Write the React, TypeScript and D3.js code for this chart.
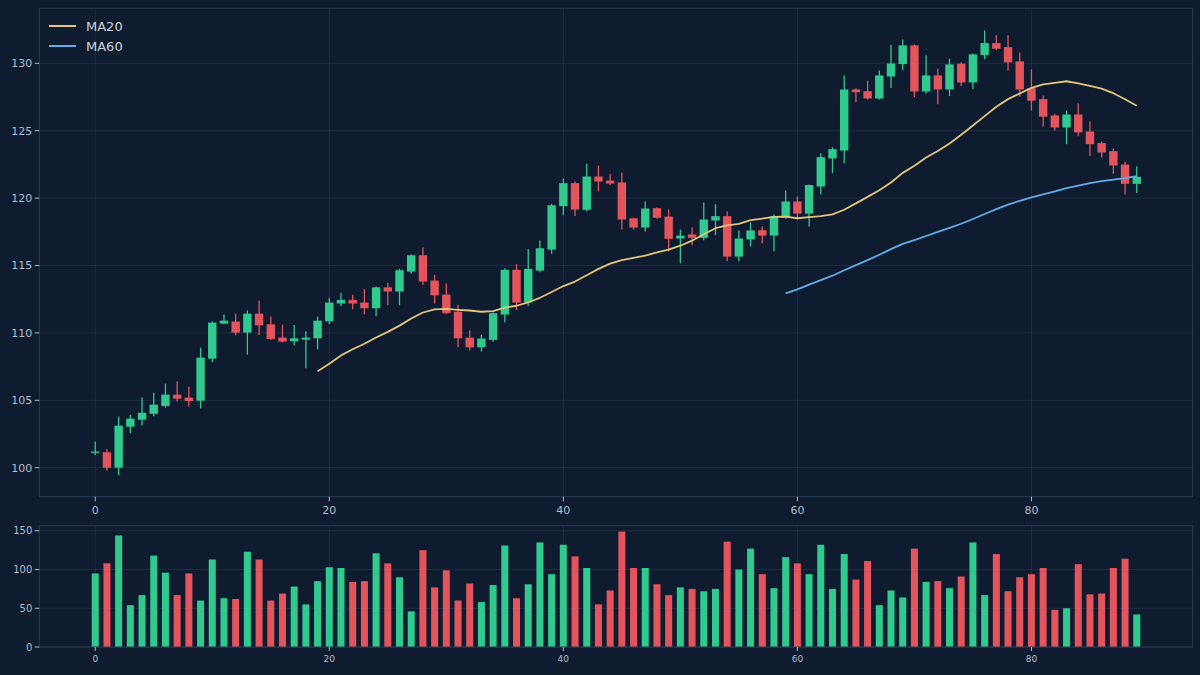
import { useMemo } from "react";
import * as d3 from "d3";

const opens = [
  101.1, 101.15, 100.0, 103.04, 103.56, 104.0, 104.58, 105.42, 105.2, 104.97,
  108.09, 110.69, 110.84, 110.02, 111.43, 110.64, 109.65, 109.38, 109.5, 109.6,
  110.86, 112.18, 112.45, 112.25, 111.83, 113.38, 113.07, 114.55, 115.76, 113.88,
  112.84, 111.57, 109.65, 108.93, 109.48, 111.36, 114.68, 112.25, 114.62, 116.18,
  119.4, 121.11, 119.13, 121.6, 121.3, 121.16, 118.5, 117.82, 119.25, 118.63,
  117.0, 117.3, 117.05, 118.34, 118.66, 115.66, 116.93, 117.62, 117.22, 118.56,
  119.75, 118.85, 120.86, 122.94, 123.53, 128.06, 127.93, 127.39, 129.02, 129.94,
  131.33, 127.91, 129.1, 128.06, 129.97, 128.58, 130.61, 131.5, 131.2, 130.14,
  128.16, 127.34, 126.13, 125.24, 126.2, 124.94, 124.08, 123.48, 122.49, 121.06,
];
const highs = [
  101.93, 101.39, 103.79, 103.93, 105.2, 105.57, 106.24, 106.41, 106.01, 108.9,
  110.84, 111.36, 111.43, 111.66, 112.4, 111.21, 110.62, 110.59, 110.12, 111.21,
  112.6, 112.97, 112.84, 113.27, 113.44, 113.73, 114.75, 115.81, 116.35, 114.31,
  113.66, 112.08, 110.17, 109.87, 111.51, 114.8, 115.1, 116.23, 116.85, 119.58,
  121.46, 121.23, 122.55, 122.42, 121.8, 121.9, 118.56, 119.75, 119.3, 119.15,
  117.67, 117.82, 119.67, 119.55, 119.0, 117.6, 118.19, 117.89, 118.8, 120.56,
  120.12, 121.01, 123.33, 123.78, 129.1, 128.14, 128.71, 129.47, 131.38, 131.77,
  131.4, 130.59, 129.6, 130.34, 130.07, 130.73, 132.44, 132.09, 132.09, 130.81,
  129.55, 127.62, 126.26, 126.5, 127.02, 125.69, 124.2, 123.68, 122.7, 122.36,
];
const lows = [
  100.94, 99.78, 99.46, 102.55, 103.14, 103.81, 104.45, 104.92, 104.53, 104.4,
  107.82, 110.64, 109.82, 108.39, 109.82, 109.48, 109.3, 109.06, 107.37, 108.78,
  110.67, 111.98, 111.75, 111.38, 111.23, 112.05, 112.05, 114.38, 113.56, 112.18,
  111.41, 108.93, 108.69, 108.61, 109.35, 110.79, 111.71, 112.0, 114.5, 115.86,
  118.73, 118.68, 119.0, 120.51, 120.96, 117.67, 117.67, 117.52, 118.46, 116.06,
  115.16, 116.5, 116.87, 117.25, 115.31, 115.31, 116.42, 116.65, 116.06, 118.46,
  118.41, 117.87, 120.27, 121.85, 122.59, 127.12, 127.32, 127.32, 128.17, 129.5,
  127.49, 127.74, 126.97, 127.57, 128.31, 128.08, 130.31, 131.01, 129.47, 127.52,
  126.49, 125.32, 125.02, 124.0, 124.58, 123.13, 123.0, 121.81, 120.27, 120.37,
];
const closes = [
  101.2, 100.0, 103.12, 103.64, 104.08, 104.68, 105.42, 105.12, 104.95, 108.17,
  110.76, 110.91, 110.02, 111.43, 110.56, 109.55, 109.35, 109.6, 109.65, 110.91,
  112.25, 112.45, 112.18, 111.83, 113.38, 113.07, 114.65, 115.76, 113.81, 112.79,
  111.48, 109.6, 108.93, 109.58, 111.46, 114.68, 112.25, 114.75, 116.28, 119.47,
  121.11, 119.15, 121.6, 121.23, 121.08, 118.41, 117.81, 119.23, 118.54, 116.98,
  117.22, 117.05, 118.41, 118.66, 115.66, 117.0, 117.6, 117.22, 118.66, 119.75,
  118.85, 120.97, 123.04, 123.63, 128.06, 127.86, 127.39, 129.1, 129.99, 131.33,
  127.91, 129.1, 128.06, 129.92, 128.58, 130.66, 131.5, 131.08, 130.07, 128.06,
  127.23, 126.04, 125.24, 126.2, 124.88, 124.0, 123.38, 122.42, 121.06, 121.58,
];
const volumes = [
  95, 108, 144, 54, 67, 118, 96, 67, 95, 60,
  113, 63, 62, 123, 113, 60, 69, 78, 55, 85,
  103, 102, 84, 85, 121, 108, 90, 46, 125, 77,
  99, 60, 82, 58, 80, 131, 63, 81, 135, 94,
  132, 117, 102, 55, 73, 149, 102, 102, 81, 67,
  77, 75, 72, 75, 136, 100, 127, 94, 76, 116,
  108, 94, 132, 75, 120, 87, 111, 54, 73, 64,
  127, 84, 85, 76, 91, 135, 67, 120, 72, 90,
  94, 102, 48, 50, 107, 68, 69, 102, 114, 42,
];
const priceTicks = [100, 105, 110, 115, 120, 125, 130];
const volTicks = [0, 50, 100, 150];
const xTicks = [0, 20, 40, 60, 80];
const maWindows = [
  { name: "MA20", n: 20, color: "#e3c578" },
  { name: "MA60", n: 60, color: "#5eaee8" },
];

const W = 1200;
const H = 675;
const BG = "#0f1c2f";
const UP = "#30c98e";
const DOWN = "#e4545c";
const SPINE = "#2a3a50";
const TICK = "#b3bcc8";
const FONT = "DejaVu Sans, Verdana, sans-serif";

const movingAvg = (n: number) =>
  closes.map((_, i) => (i < n - 1 ? null : d3.mean(closes.slice(i - n + 1, i + 1))!));

export default function App() {
  const x = d3.scaleLinear().domain([-4.78, 93.78]).range([39.3, 1192.7]);
  const y = d3.scaleLinear().domain([97.85, 134.08]).range([496.7, 8.3]);
  const yv = d3.scaleLinear().domain([0, 156.6]).range([647, 525.7]);

  const bodyW = x(0.72) - x(0);
  const volW = x(0.6) - x(0);

  const maPaths = useMemo(() => {
    return maWindows.map((m) => {
      const vals = movingAvg(m.n);
      const line = d3
        .line<number | null>()
        .defined((d) => d !== null)
        .x((_, i) => x(i))
        .y((d) => y(d as number));
      return { ...m, d: line(vals)! };
    });
  }, []);

  const [x0, x1] = x.range();
  const [mb, mt] = y.range();
  const [vb, vt] = yv.range();

  return (
    <svg
      width={W}
      height={H}
      style={{ position: "absolute", left: 0, top: 0, background: BG }}
      fontFamily={FONT}
    >
      <rect width={W} height={H} fill={BG} />

      {/* price panel */}
      <g>
        {closes.map((c, i) => {
          const o = opens[i];
          const col = c >= o ? UP : DOWN;
          const top = y(Math.max(o, c));
          const h = Math.max(1.2, Math.abs(y(o) - y(c)));
          return (
            <g key={i}>
              <line x1={x(i)} x2={x(i)} y1={y(highs[i])} y2={y(lows[i])} stroke={col} strokeWidth={1.3} />
              <rect x={x(i) - bodyW / 2} y={top} width={bodyW} height={h} fill={col} />
            </g>
          );
        })}
        {maPaths.map((m) => (
          <path key={m.name} d={m.d} fill="none" stroke={m.color} strokeWidth={1.8} strokeLinejoin="round" />
        ))}
        {priceTicks.map((t) => (
          <line key={t} x1={x0} x2={x1} y1={y(t)} y2={y(t)} stroke="#8ea4c2" strokeOpacity={0.13} />
        ))}
        {xTicks.map((t) => (
          <line key={t} x1={x(t)} x2={x(t)} y1={mt} y2={mb} stroke="#8ea4c2" strokeOpacity={0.13} />
        ))}
        <rect x={x0} y={mt} width={x1 - x0} height={mb - mt} fill="none" stroke={SPINE} strokeWidth={1} />
        {priceTicks.map((t) => (
          <g key={t} transform={`translate(${x0},${y(t)})`}>
            <line x1={-4.5} x2={0} stroke={TICK} />
            <text x={-7} dy="0.35em" textAnchor="end" fontSize={11} fill={TICK}>
              {t}
            </text>
          </g>
        ))}
        {xTicks.map((t) => (
          <g key={t} transform={`translate(${x(t)},${mb})`}>
            <line y1={0} y2={4.5} stroke={TICK} />
            <text y={17} textAnchor="middle" fontSize={11} fill={TICK}>
              {t}
            </text>
          </g>
        ))}
        {/* legend */}
        {maPaths.map((m, i) => (
          <g key={m.name} transform={`translate(49,${26 + i * 20})`}>
            <line x1={0} x2={27} stroke={m.color} strokeWidth={2} />
            <text x={37} dy="0.35em" fontSize={13} fill="#ccd3dd">
              {m.name}
            </text>
          </g>
        ))}
      </g>

      {/* volume panel */}
      <g>
        {volumes.map((v, i) => (
          <rect
            key={i}
            x={x(i) - volW / 2}
            y={yv(v)}
            width={volW}
            height={yv(0) - yv(v)}
            fill={closes[i] >= opens[i] ? UP : DOWN}
          />
        ))}
        {volTicks.map((t) => (
          <line key={t} x1={x0} x2={x1} y1={yv(t)} y2={yv(t)} stroke="#8ea4c2" strokeOpacity={0.13} />
        ))}
        {xTicks.map((t) => (
          <line key={t} x1={x(t)} x2={x(t)} y1={vt} y2={vb} stroke="#8ea4c2" strokeOpacity={0.13} />
        ))}
        <rect x={x0} y={vt} width={x1 - x0} height={vb - vt} fill="none" stroke={SPINE} strokeWidth={1} />
        {volTicks.map((t) => (
          <g key={t} transform={`translate(${x0},${yv(t)})`}>
            <line x1={-4.5} x2={0} stroke={TICK} />
            <text x={-7} dy="0.35em" textAnchor="end" fontSize={10} fill={TICK}>
              {t}
            </text>
          </g>
        ))}
        {xTicks.map((t) => (
          <g key={t} transform={`translate(${x(t)},${vb})`}>
            <line y1={0} y2={4} stroke={TICK} />
            <text y={15} textAnchor="middle" fontSize={9} fill={TICK}>
              {t}
            </text>
          </g>
        ))}
      </g>
    </svg>
  );
}
